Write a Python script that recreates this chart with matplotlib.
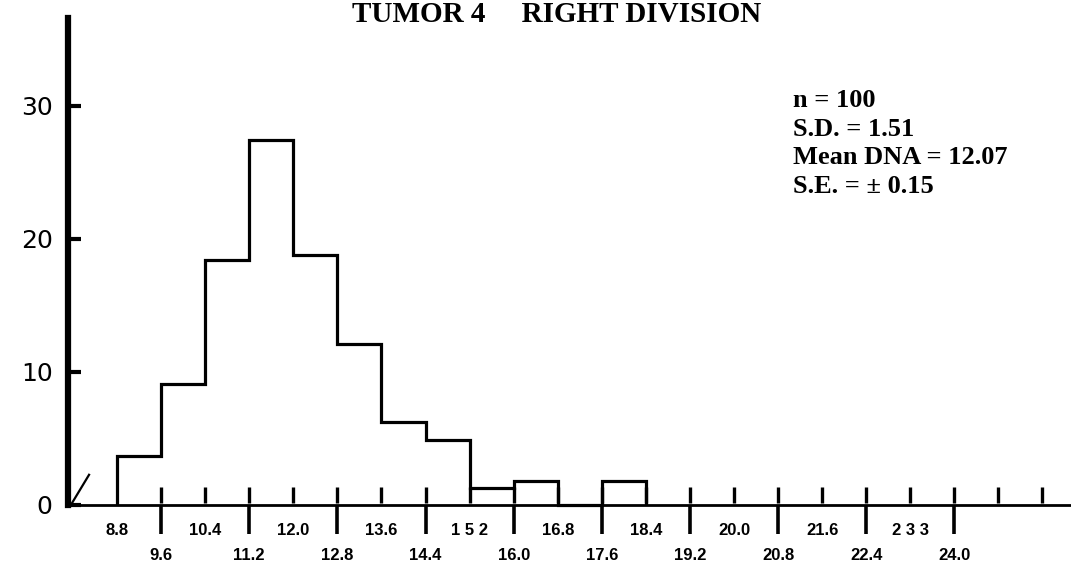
"""Tumor 4 right division: DNA content histogram, redrawn from a scanned figure."""
import numpy as np
import matplotlib
matplotlib.use('Agg')
import matplotlib.pyplot as plt

# histogram (bin width 0.8 DNA units)
bin_edges = [8.8, 9.6, 10.4, 11.2, 12.0, 12.8, 13.6, 14.4, 15.2, 16.0, 16.8, 17.6, 18.4]
counts = [3.7, 9.1, 18.4, 27.4, 18.8, 12.1, 6.2, 4.9, 1.3, 1.8, 0.0, 1.8]

# two staggered rows of x labels, as printed (scan artefacts kept)
upper_ticks = [8.8, 10.4, 12.0, 13.6, 15.2, 16.8, 18.4, 20.0, 21.6, 23.2]
upper_labels = ['8.8', '10.4', '12.0', '13.6', '1 5 2', '16.8', '18.4', '20.0', '21.6', '2 3 3']
lower_ticks = [9.6, 11.2, 12.8, 14.4, 16.0, 17.6, 19.2, 20.8, 22.4, 24.0]
lower_labels = ['9.6', '11.2', '12.8', '14.4', '16.0', '17.6', '19.2', '20.8', '22.4', '24.0']
y_ticks = [0, 10, 20, 30]

stats_lines = ['n = 100', 'S.D. = 1.51', 'Mean DNA = 12.07', 'S.E. = \u00b1 0.15']
title = 'TUMOR 4     RIGHT DIVISION'

fig = plt.figure(figsize=(10.71, 5.69), dpi=100)
ax = fig.add_axes([0.0635, 0.1125, 0.9356, 0.856])

ax.stairs(counts, bin_edges, baseline=0, color='black', lw=2.3, clip_on=False)

# short inward marks at every bin edge along the baseline
inner_ticks = np.round(np.arange(9.6, 25.61, 0.8), 1)
ax.vlines(inner_ticks, 0.15, 1.35, color='black', lw=2.4)

# axis break mark at the origin
ax.plot([0.004, 0.021], [0.004, 0.062], color='black', lw=1.6,
        transform=ax.transAxes, clip_on=False)

ax.set_xlim(7.91, 26.1)
ax.set_ylim(0, 36.6)

for side in ('top', 'right'):
    ax.spines[side].set_visible(False)
ax.spines['left'].set_linewidth(4.5)
ax.spines['bottom'].set_linewidth(2.0)

ax.set_yticks(y_ticks)
ax.set_yticklabels([str(v) for v in y_ticks], fontsize=18, family='DejaVu Sans')
ax.tick_params(axis='y', direction='in', length=9, width=3, pad=11)

ax.set_xticks(lower_ticks)
ax.set_xticklabels(lower_labels)
ax.set_xticks(upper_ticks, minor=True)
ax.set_xticklabels(upper_labels, minor=True)
for lab in ax.get_xticklabels() + ax.get_xticklabels(minor=True):
    lab.set_fontfamily('Liberation Sans')
    lab.set_fontweight('bold')
    lab.set_fontsize(12)
ax.tick_params(axis='x', which='major', direction='out', length=21, width=2.6, pad=10)
ax.tick_params(axis='x', which='minor', length=0, pad=13)

fig.text(0.5196, 0.962, title, ha='center', va='baseline',
         family='Liberation Serif', weight='bold', fontsize=21)

for i, line in enumerate(stats_lines):
    fig.text(0.7404, 0.812 - i * 0.0505, line, ha='left', va='baseline',
             family='Liberation Serif', weight='bold', fontsize=19)

fig.savefig('out.png', dpi=100)
plt.close(fig)
